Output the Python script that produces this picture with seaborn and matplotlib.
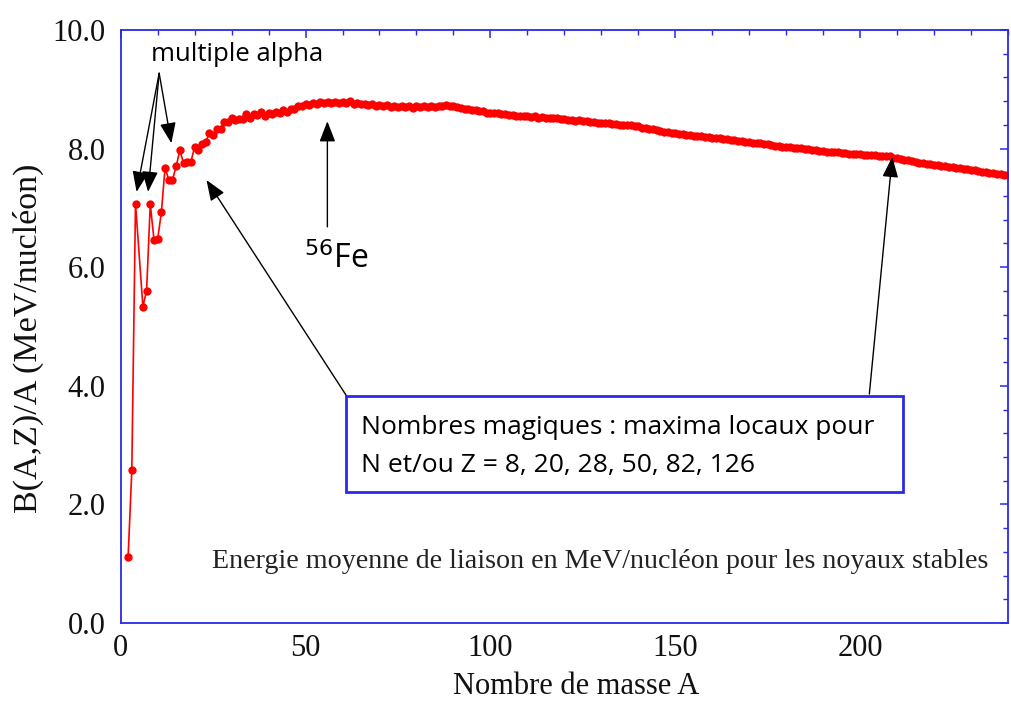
import numpy as np
import pandas as pd
import matplotlib.pyplot as plt
import seaborn as sns
from matplotlib.ticker import MultipleLocator, AutoMinorLocator, FormatStrFormatter
from matplotlib.patches import Rectangle

# --- Data: binding energy per nucleon ---
A_light = [2, 3, 4, 6, 7, 8, 9, 10, 11, 12, 13, 14, 15, 16, 17, 18, 19, 20,
           21, 22, 23, 24, 25, 26, 27, 28, 29, 30, 31, 32, 33, 34, 35, 36,
           37, 38, 39, 40]
BA_light = [1.112, 2.573, 7.074, 5.333, 5.606, 7.062, 6.463, 6.475, 6.928,
            7.680, 7.470, 7.476, 7.699, 7.976, 7.751, 7.767, 7.779, 8.032,
            7.972, 8.081, 8.112, 8.261, 8.224, 8.334, 8.332, 8.448, 8.449,
            8.521, 8.481, 8.493, 8.498, 8.584, 8.520, 8.575, 8.570, 8.614,
            8.557, 8.595]

A_heavy = list(range(41, 241))
BA_heavy = [
    8.576, 8.617, 8.601, 8.658, 8.619, 8.666, 8.665, 8.723, 8.711, 8.756,
    8.742, 8.776, 8.760, 8.778, 8.765, 8.790, 8.770, 8.792, 8.768, 8.781,
    8.765, 8.795, 8.752, 8.777, 8.757, 8.760, 8.734, 8.756, 8.725, 8.730,
    8.718, 8.732, 8.705, 8.725, 8.701, 8.711, 8.695, 8.718, 8.688, 8.711,
    8.696, 8.711, 8.693, 8.717, 8.698, 8.712, 8.711, 8.733, 8.714, 8.710,
    8.693, 8.692, 8.664, 8.667, 8.649, 8.654, 8.635, 8.635, 8.608, 8.605,
    8.601, 8.608, 8.584, 8.585, 8.572, 8.561, 8.554, 8.550, 8.548, 8.551,
    8.537, 8.545, 8.523, 8.531, 8.514, 8.523, 8.510, 8.517, 8.499, 8.505,
    8.489, 8.488, 8.472, 8.474, 8.458, 8.457, 8.445, 8.443, 8.431, 8.430,
    8.424, 8.423, 8.410, 8.408, 8.398, 8.396, 8.392, 8.393, 8.378, 8.376,
    8.354, 8.347, 8.330, 8.327, 8.309, 8.304, 8.284, 8.280, 8.263, 8.262,
    8.244, 8.244, 8.229, 8.227, 8.213, 8.215, 8.204, 8.202, 8.189, 8.184,
    8.173, 8.173, 8.162, 8.159, 8.147, 8.142, 8.132, 8.130, 8.115, 8.112,
    8.098, 8.098, 8.087, 8.085, 8.069, 8.064, 8.052, 8.049, 8.034, 8.035,
    8.023, 8.018, 8.008, 8.005, 7.991, 7.987, 7.976, 7.973, 7.963, 7.962,
    7.948, 7.942, 7.934, 7.936, 7.927, 7.926, 7.916, 7.912, 7.905, 7.906,
    7.897, 7.896, 7.887, 7.886, 7.874, 7.875, 7.870, 7.867, 7.848, 7.834,
    7.826, 7.810, 7.803, 7.788, 7.778, 7.765, 7.756, 7.744, 7.736, 7.726,
    7.717, 7.708, 7.700, 7.692, 7.683, 7.675, 7.667, 7.658, 7.650, 7.643,
    7.635, 7.615, 7.604, 7.597, 7.591, 7.586, 7.576, 7.570, 7.560, 7.556,
]

MAGIC_TEXT = ["Nombres magiques : maxima locaux pour",
              "N et/ou Z = 8, 20, 28, 50, 82, 126"]

BLUE = '#2a2ae6'
RED = '#ff0000'

df = pd.DataFrame({'A': A_light + A_heavy, 'BA': BA_light + BA_heavy})

# --- Style ---
sns.set_style('white')
plt.rcParams['font.family'] = ['Liberation Serif', 'DejaVu Serif']

fig = plt.figure(figsize=(10.11, 7.02), dpi=100)
ax = fig.add_axes([0.1194, 0.1125, 0.8776, 0.8448])

sns.lineplot(data=df, x='A', y='BA', ax=ax, color=RED, linewidth=1.2,
             marker='o', markersize=6, markeredgewidth=0, sort=False)

ax.set_xlim(0, 240)
ax.set_ylim(0, 10)
ax.xaxis.set_major_locator(MultipleLocator(50))
ax.xaxis.set_minor_locator(AutoMinorLocator(5))
ax.yaxis.set_major_locator(MultipleLocator(2))
ax.yaxis.set_minor_locator(AutoMinorLocator(5))
ax.yaxis.set_major_formatter(FormatStrFormatter('%.1f'))

for sp in ax.spines.values():
    sp.set_color(BLUE)
    sp.set_linewidth(1.3)
ax.tick_params(which='both', direction='in', top=True, right=True,
               color=BLUE, labelcolor='#111111', labelsize=22)
ax.tick_params(which='major', length=6, width=1.1)
ax.tick_params(which='minor', length=3.5, width=1.0)
ax.tick_params(axis='y', pad=11)
ax.tick_params(axis='x', pad=8)

ax.set_xlabel('Nombre de masse A', fontsize=22, color='#111111')
ax.set_ylabel('B(A,Z)/A (MeV/nucléon)', fontsize=24.5, color='#111111')
ax.xaxis.set_label_coords(0.513, -0.083)
ax.yaxis.set_label_coords(-0.087, 0.48)

# --- Annotations ---
hand = ['Open Sans', 'DejaVu Sans']
arrow = dict(arrowstyle='-|>,head_length=0.9,head_width=0.35',
             color='black', lw=1.0, shrinkA=0, shrinkB=0, mutation_scale=14)

ax.text(31.6, 9.58, 'multiple alpha', fontsize=18.5, family=hand,
        color='black', ha='center', va='center')
for tip in [(4.3, 7.27), (7.4, 7.27), (13.7, 8.09)]:
    ax.annotate('', xy=tip, xytext=(10.4, 9.27), arrowprops=arrow)

ax.annotate('', xy=(55.9, 8.46), xytext=(55.9, 6.68), arrowprops=arrow)
ax.text(58.3, 6.13, r'$^{56}$Fe', fontsize=23, family=hand,
        color='black', ha='center', va='center')

ax.annotate('', xy=(23.2, 7.47), xytext=(61.5, 3.79), arrowprops=arrow)
ax.annotate('', xy=(208.7, 7.86), xytext=(202.5, 3.86), arrowprops=arrow)

box = Rectangle((61.0, 2.21), 150.6, 1.62, facecolor='white',
                edgecolor=BLUE, linewidth=2, zorder=5)
ax.add_patch(box)
ax.text(65.0, 3.29, MAGIC_TEXT[0], fontsize=19, family=hand,
        color='black', ha='left', va='center', zorder=6)
ax.text(65.0, 2.65, MAGIC_TEXT[1], fontsize=19, family=hand,
        color='black', ha='left', va='center', zorder=6)

ax.text(234.8, 1.03,
        'Energie moyenne de liaison en MeV/nucléon pour les noyaux stables',
        fontsize=20.2, color='#222222', ha='right', va='center')

fig.savefig('out.png', dpi=100)
